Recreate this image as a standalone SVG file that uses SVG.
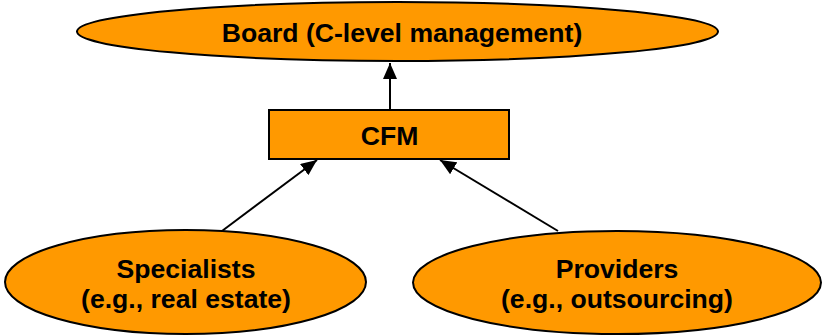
<svg xmlns="http://www.w3.org/2000/svg" width="822" height="335" viewBox="0 0 822 335">
<style>
.n{fill:#FF9900;stroke:#000;stroke-width:2}
.t{font-family:"Liberation Sans",Arial,sans-serif;font-weight:bold;font-size:26.6px;fill:#000;text-anchor:middle}
.c{stroke:#000;stroke-width:2;fill:none}
</style>
<defs>
<marker id="ah" viewBox="0 0 16 14" refX="16" refY="7" markerWidth="16" markerHeight="14" markerUnits="userSpaceOnUse" orient="auto">
<path d="M0,0 L16,7 L0,14 Z" fill="#000"/>
</marker>
</defs>
<rect width="822" height="335" fill="#fff"/>
<g id="connectors">
<line class="c" x1="390" y1="110" x2="390" y2="63" marker-end="url(#ah)"/>
<line class="c" x1="222" y1="231" x2="317" y2="160" marker-end="url(#ah)"/>
<line class="c" x1="558" y1="231" x2="440" y2="160" marker-end="url(#ah)"/>
</g>
<g id="board">
<ellipse class="n" cx="397.5" cy="31.5" rx="320.5" ry="29.5"/>
<text class="t" x="402" y="42">Board (C-level management)</text>
</g>
<g id="cfm">
<rect class="n" x="269" y="110" width="240" height="49"/>
<text class="t" x="389.5" y="145">CFM</text>
</g>
<g id="specialists">
<ellipse class="n" cx="185.5" cy="282" rx="180.5" ry="52"/>
<text class="t" x="186" y="278">Specialists</text>
<text class="t" x="186" y="308">(e.g., real estate)</text>
</g>
<g id="providers">
<ellipse class="n" cx="617" cy="282.5" rx="204" ry="51.5"/>
<text class="t" x="617" y="278">Providers</text>
<text class="t" x="617" y="308">(e.g., outsourcing)</text>
</g>
</svg>
